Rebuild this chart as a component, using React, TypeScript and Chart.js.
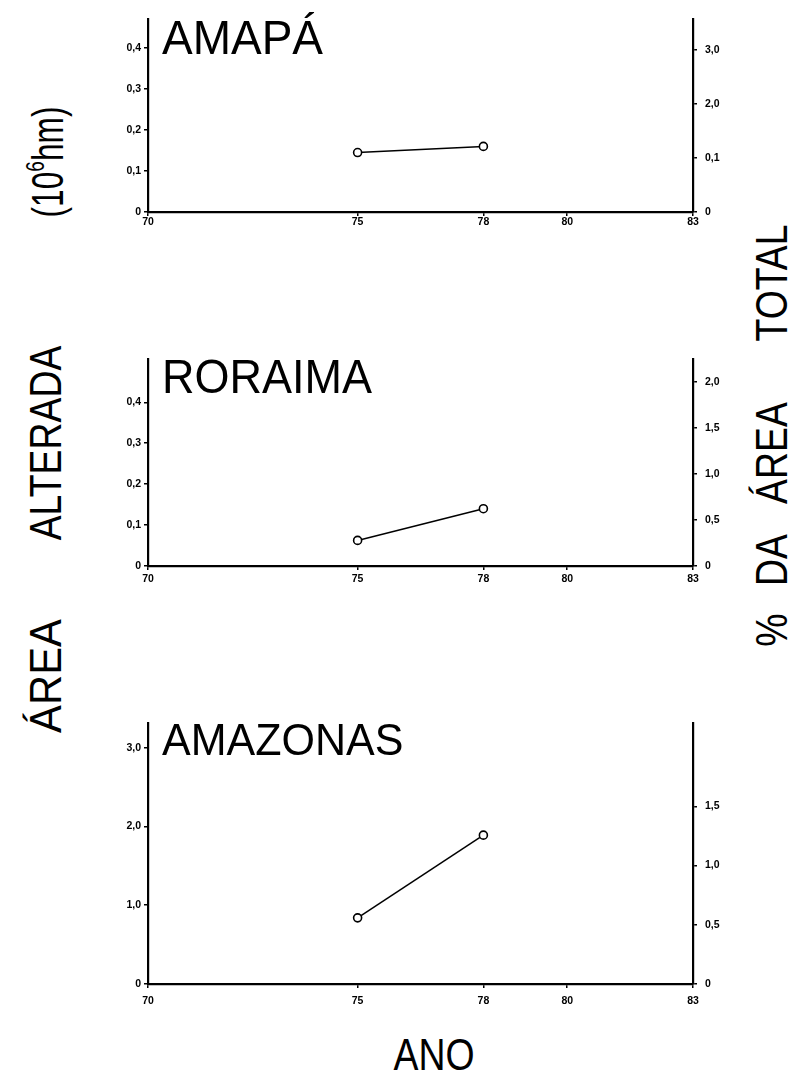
import React, { useEffect, useRef } from "react";
import { Chart, registerables } from "chart.js";
Chart.register(...registerables);

// ---- data ----
const years = [75, 78];
const amapaArea = [0.145, 0.16];
const roraimaArea = [0.0625, 0.14];
const amazonasArea = [0.84, 1.89];

const xTickValues = [70, 75, 78, 80, 83];
const xTickLabels = ["70", "75", "78", "80", "83"];

const amapaLeftTicks = [0, 0.1, 0.2, 0.3, 0.4];
const amapaLeftLabels = ["0", "0,1", "0,2", "0,3", "0,4"];
const amapaRightTicks = [0, 1, 2, 3];
const amapaRightLabels = ["0", "0,1", "2,0", "3,0"];

const roraimaLeftTicks = [0, 0.1, 0.2, 0.3, 0.4];
const roraimaLeftLabels = ["0", "0,1", "0,2", "0,3", "0,4"];
const roraimaRightTicks = [0, 0.5, 1, 1.5, 2];
const roraimaRightLabels = ["0", "0,5", "1,0", "1,5", "2,0"];

const amazonasLeftTicks = [0, 1, 2, 3];
const amazonasLeftLabels = ["0", "1,0", "2,0", "3,0"];
const amazonasRightTicks = [0, 0.5, 1, 1.5];
const amazonasRightLabels = ["0", "0,5", "1,0", "1,5"];

// ---- layout ----
const CANVAS_LEFT = 100;
const CANVAS_WIDTH = 640;
const LEFT_AXIS_W = 48;
const RIGHT_AXIS_W = 47;
const PAD_TOP = 10;

type PanelProps = {
  title: string;
  titleSize: number;
  values: number[];
  top: number;
  bottom: number;
  leftMax: number;
  rightMax: number;
  leftTicks: number[];
  leftLabels: string[];
  rightTicks: number[];
  rightLabels: string[];
  xAxisH: number;
  xPad: number;
};

const tickFont = { family: "'Liberation Sans', Arial, sans-serif", size: 10.5, weight: "bold" as const };

function Panel(p: PanelProps) {
  const ref = useRef<HTMLCanvasElement | null>(null);
  const height = p.bottom - p.top + PAD_TOP + p.xAxisH;
  useEffect(() => {
    if (!ref.current) return;
    const grid = {
      drawOnChartArea: false,
      drawTicks: true,
      tickLength: 4,
      color: "#000",
      lineWidth: 1.5,
    };
    const border = { display: true, color: "#000", width: 2.2 };
    const chart = new Chart(ref.current, {
      type: "line",
      data: {
        datasets: [
          {
            data: years.map((x, i) => ({ x, y: p.values[i] })),
            yAxisID: "y",
            borderColor: "#000",
            borderWidth: 1.5,
            pointRadius: 4,
            pointBackgroundColor: "#fff",
            pointBorderColor: "#000",
            pointBorderWidth: 1.6,
            fill: false,
            tension: 0,
          },
        ],
      },
      options: {
        animation: false,
        responsive: false,
        maintainAspectRatio: false,
        layout: { padding: { top: PAD_TOP, left: 0, right: 0, bottom: 0 } },
        plugins: { legend: { display: false }, tooltip: { enabled: false } },
        scales: {
          x: {
            type: "linear",
            min: 70,
            max: 83,
            afterBuildTicks: (s: any) => {
              s.ticks = xTickValues.map((v) => ({ value: v }));
            },
            afterFit: (s: any) => {
              s.height = p.xAxisH;
            },
            ticks: {
              autoSkip: false,
              maxRotation: 0,
              color: "#000",
              font: tickFont,
              padding: p.xPad,
              callback: (_v: any, i: number) => xTickLabels[i],
            },
            grid,
            border,
          },
          y: {
            type: "linear",
            position: "left",
            min: 0,
            max: p.leftMax,
            afterBuildTicks: (s: any) => {
              s.ticks = p.leftTicks.map((v) => ({ value: v }));
            },
            afterFit: (s: any) => {
              s.width = LEFT_AXIS_W;
            },
            ticks: {
              autoSkip: false,
              color: "#000",
              font: tickFont,
              padding: 3,
              callback: (_v: any, i: number) => p.leftLabels[i],
            },
            grid,
            border,
          },
          y2: {
            type: "linear",
            position: "right",
            min: 0,
            max: p.rightMax,
            afterBuildTicks: (s: any) => {
              s.ticks = p.rightTicks.map((v) => ({ value: v }));
            },
            afterFit: (s: any) => {
              s.width = RIGHT_AXIS_W;
            },
            ticks: {
              autoSkip: false,
              color: "#000",
              font: tickFont,
              padding: 8,
              callback: (_v: any, i: number) => p.rightLabels[i],
            },
            grid,
            border,
          },
        },
      } as any,
    });
    return () => chart.destroy();
  }, []);
  return (
    <>
      <div
        style={{
          position: "absolute",
          left: CANVAS_LEFT,
          top: p.top - PAD_TOP,
          width: CANVAS_WIDTH,
          height,
        }}
      >
        <canvas ref={ref} width={CANVAS_WIDTH} height={height} style={{ width: CANVAS_WIDTH, height }} />
      </div>
      <div
        style={{
          position: "absolute",
          left: 162,
          top: p.top - 2,
          fontFamily: "'Liberation Sans', Arial, sans-serif",
          fontSize: p.titleSize,
          lineHeight: 1,
          color: "#000",
          whiteSpace: "nowrap",
          transform: "scaleY(1.05)",
          transformOrigin: "left top",
        }}
      >
        {p.title}
      </div>
    </>
  );
}

function VText(props: { cx: number; cy: number; size: number; sx: number; children: React.ReactNode }) {
  return (
    <div
      style={{
        position: "absolute",
        left: props.cx,
        top: props.cy,
        transform: `translate(-50%, -50%) rotate(-90deg) scaleX(${props.sx})`,
        fontFamily: "'Liberation Sans', Arial, sans-serif",
        fontSize: props.size,
        lineHeight: 1,
        color: "#000",
        whiteSpace: "nowrap",
      }}
    >
      {props.children}
    </div>
  );
}

export default function App() {
  return (
    <div style={{ position: "absolute", left: 0, top: 0, width: 796, height: 1086, background: "#fff", overflow: "hidden" }}>
      <Panel
        title="AMAPÁ"
        titleSize={46}
        values={amapaArea}
        top={15}
        bottom={212}
        leftMax={0.47}
        rightMax={3.56}
        leftTicks={amapaLeftTicks}
        leftLabels={amapaLeftLabels}
        rightTicks={amapaRightTicks}
        rightLabels={amapaRightLabels}
        xAxisH={22}
        xPad={0}
      />
      <Panel
        title="RORAIMA"
        titleSize={45}
        values={roraimaArea}
        top={355}
        bottom={566}
        leftMax={0.505}
        rightMax={2.245}
        leftTicks={roraimaLeftTicks}
        leftLabels={roraimaLeftLabels}
        rightTicks={roraimaRightTicks}
        rightLabels={roraimaRightLabels}
        xAxisH={26}
        xPad={3}
      />
      <Panel
        title="AMAZONAS"
        titleSize={43}
        values={amazonasArea}
        top={719}
        bottom={984}
        leftMax={3.31}
        rightMax={2.2}
        leftTicks={amazonasLeftTicks}
        leftLabels={amazonasLeftLabels}
        rightTicks={amazonasRightTicks}
        rightLabels={amazonasRightLabels}
        xAxisH={30}
        xPad={7}
      />
      <VText cx={46} cy={162} size={44} sx={0.72}>
        (10<span style={{ fontSize: "0.6em", verticalAlign: "0.75em" }}>6</span>hm)
      </VText>
      <VText cx={46} cy={443} size={44} sx={0.85}>ALTERADA</VText>
      <VText cx={46} cy={676} size={44} sx={0.95}>ÁREA</VText>
      <VText cx={772} cy={283} size={44} sx={0.85}>TOTAL</VText>
      <VText cx={772} cy={453} size={44} sx={0.85}>ÁREA</VText>
      <VText cx={772} cy={560} size={44} sx={0.85}>DA</VText>
      <VText cx={772} cy={630} size={44} sx={0.85}>%</VText>
      <div
        style={{
          position: "absolute",
          left: 434,
          top: 1055,
          transform: "translate(-50%, -50%) scaleX(0.85)",
          fontFamily: "'Liberation Sans', Arial, sans-serif",
          fontSize: 44,
          lineHeight: 1,
          color: "#000",
          whiteSpace: "nowrap",
        }}
      >
        ANO
      </div>
    </div>
  );
}
